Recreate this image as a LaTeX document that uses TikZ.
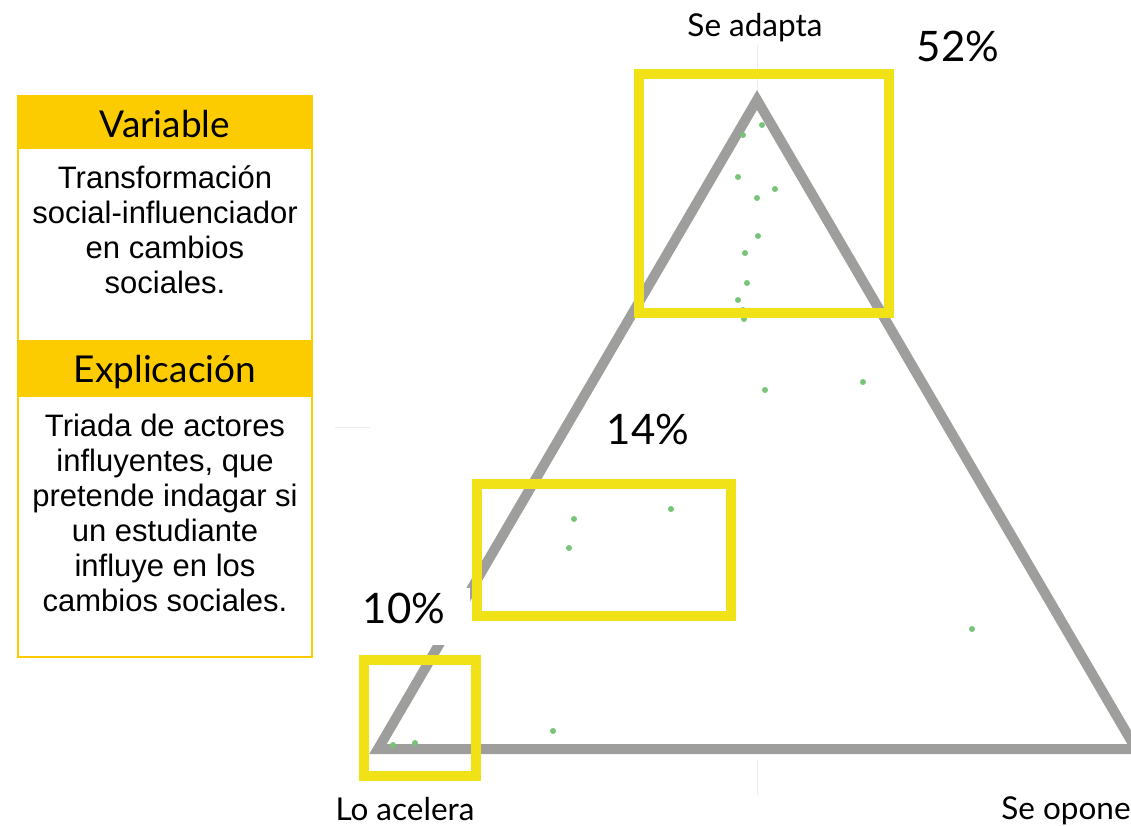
\documentclass[tikz,border=0pt]{standalone}
\usepackage{fontspec}
\setmainfont{Lato}
\newfontfamily\cajafont{Liberation Sans}
\usetikzlibrary{positioning}
\definecolor{gristri}{RGB}{158,158,156}
\definecolor{amarillo}{RGB}{240,226,22}
\definecolor{dorado}{RGB}{253,204,0}
\definecolor{verdepunto}{RGB}{120,196,120}
\tikzset{
  zona/.style={draw=amarillo,line width=10.5},
  punto/.style={fill=verdepunto,draw=none},
  vertice/.style={inner sep=0pt,font=\fontsize{31.5}{36}\selectfont,anchor=base},
  porcentaje/.style={inner sep=0pt,font=\fontsize{42}{48}\selectfont,anchor=base},
  titulo/.style={inner sep=0pt,font=\fontsize{37}{42}\selectfont,anchor=base},
  cuerpo/.style={inner sep=0pt,align=center,anchor=north,
    font=\cajafont\fontsize{31}{35}\selectfont}
}
\begin{document}
\begin{tikzpicture}[line cap=butt,line join=miter,x=1pt,y=-1pt]
\useasboundingbox (0,0) rectangle (1131,825);
% panel de la izquierda
\fill [dorado] (17,95) rectangle (313,149);
\fill [dorado] (17,340) rectangle (313,397);
\draw [dorado,line width=2.5] (18,96) rectangle (312,657);
\node [titulo] (variable) at (165,137) {Variable};
\node [cuerpo] (transformacion) at (165,165) {Transformación\\social-influenciador\\en cambios\\sociales.};
\node [titulo] (explicacion) at (165,382) {Explicación};
\node [cuerpo] (triada) at (165,414) {Triada de actores\\influyentes, que\\pretende indagar si\\un estudiante\\influye en los\\cambios sociales.};
% ejes tenues
\draw [black!8,line width=1] (757,45) -- (757,90);
\draw [black!8,line width=1] (757,760) -- (757,795);
\draw [black!8,line width=1] (335,427) -- (370,427);
% triangulo
\coordinate (adapta) at (757,100);
\coordinate (acelera) at (378,749);
\coordinate (opone) at (1136,749);
\draw [gristri,line width=10] (adapta) -- (acelera) -- (opone) -- cycle;
\fill [white] (360,588) rectangle (470,645);
% puntos
\draw [punto] (762,125) circle (3);
\draw [punto] (743,135) circle (3);
\draw [punto] (738,177) circle (3);
\draw [punto] (775,189) circle (3);
\draw [punto] (757,198) circle (3);
\draw [punto] (758,236) circle (3);
\draw [punto] (745,253) circle (3);
\draw [punto] (747,283) circle (3);
\draw [punto] (738,300) circle (3);
\draw [punto] (743,310) circle (3);
\draw [punto] (744,319) circle (3);
\draw [punto] (765,390) circle (3);
\draw [punto] (863,382) circle (3);
\draw [punto] (972,629) circle (3);
\draw [punto] (574,519) circle (3);
\draw [punto] (569,548) circle (3);
\draw [punto] (671,509) circle (3);
\draw [punto] (553,731) circle (3);
\draw [punto] (415,743) circle (3);
\draw [punto] (393,745) circle (3);
% zonas
\draw [zona] (639,74) rectangle (889,313);
\draw [zona] (477,484) rectangle (731,616);
\draw [zona] (364,660) rectangle (476,776);
% etiquetas
\node [vertice] (seadapta) at (755,36) {Se adapta};
\node [vertice] (loacelera) at (405,820) {Lo acelera};
\node [vertice] (seopone) at (1066,819) {Se opone};
\node [porcentaje] (p52) at (958,61) {52\%};
\node [porcentaje] (p14) at (648,444) {14\%};
\node [porcentaje] (p10) at (404,623) {10\%};
\end{tikzpicture}
\end{document}
